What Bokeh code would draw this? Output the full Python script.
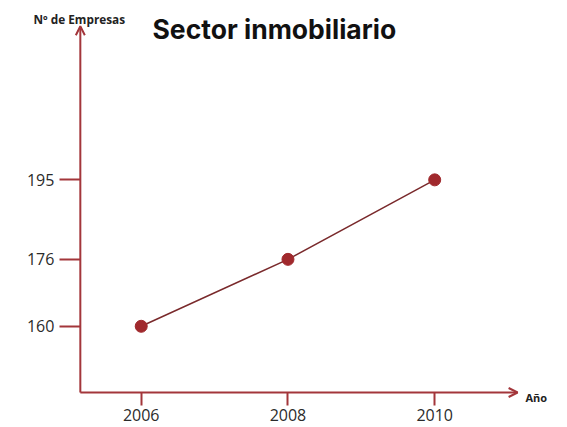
from bokeh.plotting import figure
from bokeh.models import Range1d, FixedTicker, Arrow, OpenHead, Label
from bokeh.embed import file_html
from bokeh.resources import INLINE

years = [2006, 2008, 2010]
empresas = [160, 176, 195]
y_ticks = [160, 176, 195]
x_ticks = [2006, 2008, 2010]

title_text = "Sector inmobiliario"
y_label = "Nº de Empresas"
x_label = "Año"

RED = "#a3363b"
X0, X1 = 2004.082, 2011.810
Y0, Y1 = 135.81, 237.87
AX_X = 2005.17
AX_Y = 144.18

p = figure(width=567, height=427, output_backend="svg", toolbar_location=None,
           x_range=Range1d(X0, X1), y_range=Range1d(Y0, Y1),
           min_border=0, min_border_left=0, min_border_right=0,
           min_border_top=0, min_border_bottom=0)
p.outline_line_color = None
p.grid.visible = False
p.background_fill_color = "white"

for ax in p.xaxis:
    ax.fixed_location = AX_Y
    ax.ticker = FixedTicker(ticks=x_ticks)
    ax.axis_line_color = None
    ax.major_tick_in = 0
    ax.major_tick_out = 13
    ax.major_tick_line_color = RED
    ax.major_tick_line_width = 2
    ax.minor_tick_line_color = None
    ax.major_label_text_font = "Open Sans"
    ax.major_label_text_font_size = "16px"
    ax.major_label_text_color = "#2b2b2b"
    ax.major_label_standoff = 4

for ax in p.yaxis:
    ax.fixed_location = AX_X
    ax.ticker = FixedTicker(ticks=y_ticks)
    ax.axis_line_color = None
    ax.major_tick_in = 0
    ax.major_tick_out = 21
    ax.major_tick_line_color = RED
    ax.major_tick_line_width = 2
    ax.minor_tick_line_color = None
    ax.major_label_text_font = "Open Sans"
    ax.major_label_text_font_size = "16px"
    ax.major_label_text_color = "#2b2b2b"
    ax.major_label_standoff = 5

p.add_layout(Arrow(end=OpenHead(size=9, line_color=RED, line_width=2),
                   x_start=AX_X, y_start=AX_Y, x_end=AX_X, y_end=231.7,
                   line_color=RED, line_width=2))
p.add_layout(Arrow(end=OpenHead(size=9, line_color=RED, line_width=2),
                   x_start=AX_X, y_start=AX_Y, x_end=2011.13, y_end=AX_Y,
                   line_color=RED, line_width=2))

p.line(years, empresas, line_color="#7a2a2c", line_width=1.5)
p.scatter(years, empresas, size=12, fill_color="#a0292d", line_color="#a0292d")

p.add_layout(Label(x=152, y=399, x_units="screen", y_units="screen", text=title_text,
                   text_font="Inter", text_font_style="bold", text_font_size="26.5px",
                   text_color="#111111", text_baseline="alphabetic"))
p.add_layout(Label(x=33, y=409, x_units="screen", y_units="screen", text=y_label,
                   text_font="Open Sans", text_font_style="bold", text_font_size="11.8px",
                   text_color="#222222", text_baseline="alphabetic"))
p.add_layout(Label(x=525, y=30, x_units="screen", y_units="screen", text=x_label,
                   text_font="Open Sans", text_font_style="bold", text_font_size="11px",
                   text_color="#222222", text_baseline="alphabetic"))

open("out.html", "w").write(file_html(p, INLINE))
